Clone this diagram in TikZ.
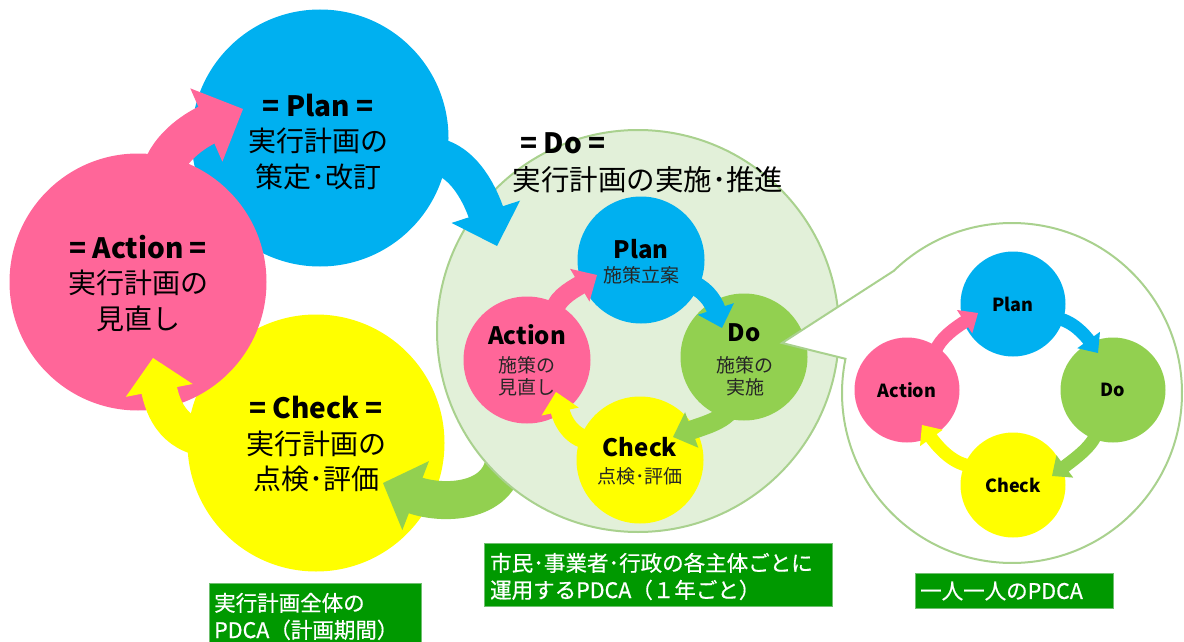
\documentclass[tikz,border=0pt]{standalone}
\usepackage{fontspec}
\setmainfont{Noto Sans CJK JP}
\newfontfamily\lblfont{Noto Sans CJK JP}[FakeBold=0.6]
\usetikzlibrary{calc}
\definecolor{cblue}{HTML}{00B0F0}
\definecolor{cpink}{HTML}{FF6699}
\definecolor{cyellow}{HTML}{FFFF00}
\definecolor{cgreen}{HTML}{92D050}
\definecolor{clight}{HTML}{E2F0D9}
\definecolor{cline}{HTML}{A9D18E}
\definecolor{cbox}{HTML}{009900}
\definecolor{cboxline}{HTML}{70C070}
% color, shaft width, head length, head half width, start, c1, c2, tip
\newcommand\myarrow[8]{%
  \coordinate (hb) at ($#8!#3!#7$);
  \coordinate (he) at ($#8!0.9*#3!#7$);
  \draw[#1, line width=#2] #5 .. controls #6 and #7 .. (he);
  \fill[#1] #8 -- ($(hb)!#4!90:#8$) -- ($(hb)!#4!-90:#8$) -- cycle;
}
\begin{document}
\begin{tikzpicture}[x=1pt,y=-1pt,
  bigc/.style={circle, inner sep=0pt, minimum size=257pt},
  smallc/.style={circle, inner sep=0pt, minimum size=127pt},
  tinyc/.style={circle, inner sep=0pt, minimum size=105pt},
  bigtxt/.style={align=center, inner sep=0pt, font=\fontsize{28}{35.5}\selectfont},
  midhead/.style={inner sep=0pt, font=\fontsize{24}{28}\bfseries\selectfont},
  midtxt/.style={align=center, inner sep=0pt, text=black!85, font=\fontsize{19}{22}\selectfont},
  tinytxt/.style={inner sep=0pt, font=\fontsize{18}{22}\bfseries\selectfont},
  lblbox/.style={fill=cbox, draw=cboxline, line width=1pt, inner sep=0pt, anchor=north west},
  lbltxt/.style={anchor=west, align=left, inner sep=0pt, text=white, font=\lblfont\fontsize{21.5}{27}\selectfont},
  outl/.style={draw=cline, line width=2pt}
]
\useasboundingbox (0,0) rectangle (1184,642);

% big cycle circles
\node[bigc, fill=cblue] (P) at (320,138) {};
\node[bigc, fill=cyellow] (C) at (316,443) {};
\node[bigc, fill=cpink] (A) at (138,282) {};

% green big arrow (under Do area)
\myarrow{cgreen}{38pt}{35pt}{37pt}{(505,458)}{(500,505)}{(440,505)}{(383,483)}

% Do area
\node[circle, inner sep=0pt, minimum size=402pt, fill=clight, outl] (D) at (638,331) {};

% big arrows
\myarrow{cblue}{36pt}{36pt}{36pt}{(430,155)}{(465,158)}{(482,200)}{(497,246)}
\myarrow{cpink}{40pt}{40pt}{40pt}{(160,180)}{(164,150)}{(195,130)}{(243,109)}
\myarrow{cyellow}{36pt}{33pt}{34pt}{(220,440)}{(175,440)}{(163,410)}{(153,358)}

% big texts
\node[bigtxt] (tP) at (318,142) {{\bfseries = Plan =}\\実行計画の\\策定･改訂};
\node[bigtxt] (tA) at (138,283) {{\bfseries = Action =}\\実行計画の\\見直し};
\node[bigtxt] (tC) at (316,444) {{\bfseries = Check =}\\実行計画の\\点検･評価};
\node[inner sep=0pt, font=\fontsize{28}{34}\bfseries\selectfont] (tD1) at (563,143) {= Do =};
\node[inner sep=0pt, font=\fontsize{28.5}{34}\selectfont] (tD2) at (648,180) {実行計画の実施･推進};

% Do-area small cycle
\node[smallc, fill=cblue] (sP) at (641,260) {};
\node[smallc, fill=cgreen] (sD) at (744,357) {};
\node[smallc, fill=cpink] (sA) at (527,360) {};
\node[smallc, fill=cyellow] (sC) at (640,460) {};

\myarrow{cpink}{19pt}{20pt}{19pt}{(553,318)}{(553,300)}{(570,291)}{(597,275)}
\myarrow{cblue}{19pt}{20pt}{19pt}{(688,283)}{(703,287)}{(713,300)}{(722,328)}
\myarrow{cgreen}{19pt}{20pt}{19pt}{(735,402)}{(728,420)}{(705,425)}{(673,437)}
\myarrow{cyellow}{19pt}{20pt}{19pt}{(592,440)}{(572,440)}{(562,420)}{(556,392)}

\node[midhead] (sPt) at (641,249) {Plan};
\node[midtxt] (sPj) at (641,275) {施策立案};
\node[midhead] (sAt) at (527,335) {Action};
\node[midtxt] (sAj) at (527,376) {施策の\\見直し};
\node[midhead] (sDt) at (744,333) {Do};
\node[midtxt] (sDj) at (745,376) {施策の\\実施};
\node[midhead] (sCt) at (640,447) {Check};
\node[midtxt] (sCj) at (640,476) {点検･評価};

% callout
\coordinate (cc) at (1012,393);
\coordinate (ctip) at (782,343);
\draw[outl, fill=white] (ctip) -- ($(cc)+(225.9:170)$) arc[start angle=225.9, end angle=551.6, radius=170] -- cycle;

\node[tinyc, fill=cblue] (tPn) at (1013,304) {};
\node[tinyc, fill=cgreen] (tDn) at (1113,390) {};
\node[tinyc, fill=cpink] (tAn) at (907,390) {};
\node[tinyc, fill=cyellow] (tCn) at (1013,485) {};

\myarrow{cpink}{13pt}{16pt}{14pt}{(935,352)}{(940,338)}{(955,328)}{(978,313)}
\myarrow{cblue}{13pt}{16pt}{14pt}{(1055,318)}{(1072,320)}{(1085,335)}{(1098,353)}
\myarrow{cgreen}{13pt}{16pt}{14pt}{(1098,430)}{(1093,445)}{(1080,455)}{(1052,476)}
\myarrow{cyellow}{13pt}{16pt}{14pt}{(972,466)}{(955,465)}{(940,450)}{(922,425)}

\node[tinytxt] (tPt) at (1013,304) {Plan};
\node[tinytxt] (tDt) at (1113,390) {Do};
\node[tinytxt] (tAt) at (907,390) {Action};
\node[tinytxt] (tCt) at (1013,485) {Check};

% labels
\node[lblbox, minimum width=212pt, minimum height=75pt] (L1) at (209,583) {};
\node[lbltxt] (L1t) at (214,616.5) {実行計画全体の\\PDCA（計画期間）};
\node[lblbox, minimum width=348pt, minimum height=63pt] (L2) at (484,543) {};
\node[lbltxt] (L2t) at (490,576.5) {市民･事業者･行政の各主体ごとに\\運用するPDCA（１年ごと）};
\node[lblbox, minimum width=198pt, minimum height=35pt] (L3) at (915,573) {};
\node[lbltxt] (L3t) at (920,591) {一人一人のPDCA};
\end{tikzpicture}
\end{document}
